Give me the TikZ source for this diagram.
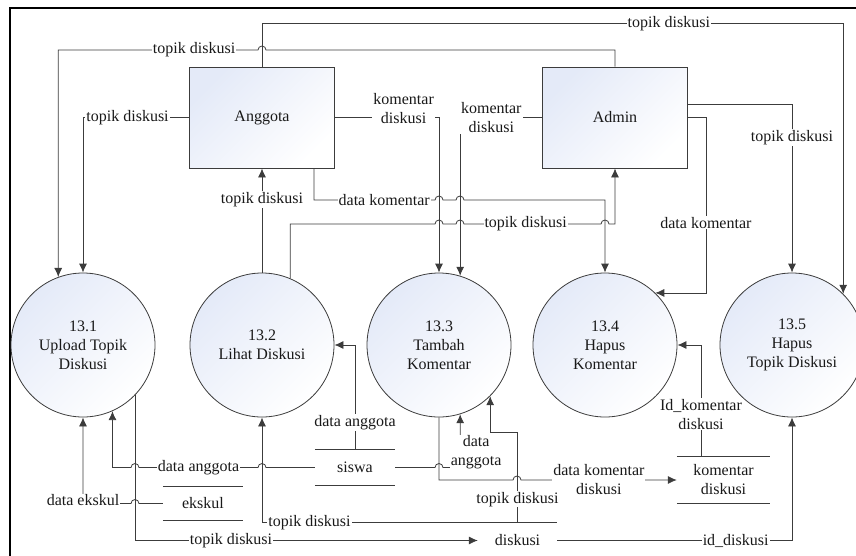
\documentclass[tikz,border=0pt]{standalone}
\usepackage{fontspec}
\setmainfont{Liberation Serif}
\usetikzlibrary{arrows.meta}

\definecolor{procfill}{RGB}{228,234,248}
\definecolor{flowgray}{RGB}{60,60,60}

\tikzset{
  entity/.style={draw=flowgray, line width=0.8pt, minimum width=145pt, minimum height=101pt,
    top color=procfill, bottom color=white, shading angle=45},
  process/.style={circle, draw=flowgray, line width=0.8pt, minimum size=144pt, inner sep=0pt,
    align=center, top color=procfill, bottom color=white, shading angle=45},
  store/.style={minimum width=80pt, minimum height=35pt, align=center},
  flow/.style={draw=flowgray, line width=0.8pt, -{Latex[length=9pt,width=8pt]}},
  lbl/.style={fill=white, inner sep=1pt, align=center}
}

\begin{document}
\begin{tikzpicture}[x=1pt,y=1pt,font=\fontsize{16}{19}\selectfont,text=black!90]
  \useasboundingbox (0,0) rectangle (856,-555);
  \draw [line width=2pt] (10,-570) -- (10,-8) -- (870,-8);

  % external entities
  \node [entity] (ang) at (262,-117.5) {Anggota};
  \node [entity] (adm) at (615,-117.5) {Admin};

  % processes
  \node [process] (c1) at (83,-345) {13.1\\Upload Topik\\Diskusi};
  \node [process] (c2) at (262,-345) {13.2\\Lihat Diskusi};
  \node [process] (c3) at (439,-345) {13.3\\Tambah\\Komentar};
  \node [process] (c4) at (605,-345) {13.4\\Hapus\\Komentar};
  \node [process] (c5) at (792,-345) {13.5\\Hapus\\Topik Diskusi};

  % data stores
  \node [store] (ss) at (355,-467.5) {siswa};
  \node [store,minimum height=34pt] (ek) at (203,-503.5) {ekskul};
  \node [store,minimum width=93pt,minimum height=46pt] (kd) at (723.5,-480) {komentar\\diskusi};
  \node [store,minimum width=79pt] (dk) at (517.5,-540.5) {diskusi};
  \foreach \s in {ss,ek,kd,dk}
    \draw [draw=flowgray,line width=0.8pt] (\s.north west) -- (\s.north east)
      (\s.south west) -- (\s.south east);

  % flows from the top
  \draw [flow] (ang.north) -- ++(0,43) -| (c5.45) node [lbl,pos=0.35] {topik diskusi};
  \draw [flow] (adm.north) |- (266,-50) arc [start angle=0,end angle=180,radius=4]
    -| (c1.110) node [lbl,pos=0.16] {topik diskusi};
  \draw [flow] (ang.west) -| (c1.north) node [lbl,pos=0.29] {topik diskusi};
  \draw [flow] (ang.east) -| (c3.north) node [lbl,pos=0.33,yshift=9] {komentar\\diskusi};
  \draw [flow] (adm.west) -| (c3.73) node [lbl,pos=0.31] {komentar\\diskusi};
  \draw [flow] ([xshift=52pt]ang.south) |- (435,-200) node [lbl,pos=0.79] {data komentar}
    arc [start angle=180,end angle=0,radius=4] -- (456,-200)
    arc [start angle=180,end angle=0,radius=4] -| (c4.north);
  \draw [flow] (c2.67) |- (435,-224) arc [start angle=180,end angle=0,radius=4] -- (456,-224)
    arc [start angle=180,end angle=0,radius=4] -- (601,-224) node [lbl,pos=0.45] {topik diskusi}
    arc [start angle=180,end angle=0,radius=4] -| (adm.south);
  \draw [flow] (c2.north) -- (ang.south) node [lbl,pos=0.7] {topik diskusi};
  \draw [flow] ([yshift=13.5pt]adm.east) -| (c5.north) node [lbl,pos=0.6] {topik diskusi};
  \draw [flow] (adm.east) -- ++(18,0) |- (c4.46) node [lbl,pos=0.3] {data komentar};

  % flows from the stores
  \draw [flow] (ss.north) |- (c2.east) node [lbl,pos=0.13] {data anggota};
  \draw [flow] (ss.west) -- (266,-467.5) arc [start angle=0,end angle=180,radius=4]
    -- (139,-467.5) node [lbl,midway] {data anggota}
    arc [start angle=0,end angle=180,radius=4] -| (c1.-66);
  \draw [flow] (ss.east) -- (435,-467.5) arc [start angle=180,end angle=0,radius=4]
    -| (c3.-73) node [lbl,pos=0.5,xshift=16,yshift=15] {data\\anggota};
  \draw [flow] (c3.south) |- (513,-480) arc [start angle=180,end angle=0,radius=4]
    -- (kd.west) node [lbl,midway] {data komentar\\diskusi};
  \draw [flow] ([xshift=-22.5pt]kd.north) |- (c4.east) node [lbl,pos=0.19] {Id\_komentar\\diskusi};
  \draw [flow] (dk.north west) -| (c2.south) node [lbl,pos=0.39] {topik diskusi};
  \draw [flow] (c1.-44) |- (dk.west) node [lbl,pos=0.64] {topik diskusi};
  \draw [flow] (dk.north) -- (517.5,-432) node [lbl,pos=0.26] {topik diskusi} -| (c3.-45);
  \draw [flow] (dk.east) -| (c5.south) node [lbl,pos=0.38] {id\_diskusi};
  \draw [flow] (ek.west) -- (139,-503.5) arc [start angle=0,end angle=180,radius=4]
    -| (c1.south) node [lbl,pos=0.5,yshift=3] {data ekskul};
\end{tikzpicture}
\end{document}
